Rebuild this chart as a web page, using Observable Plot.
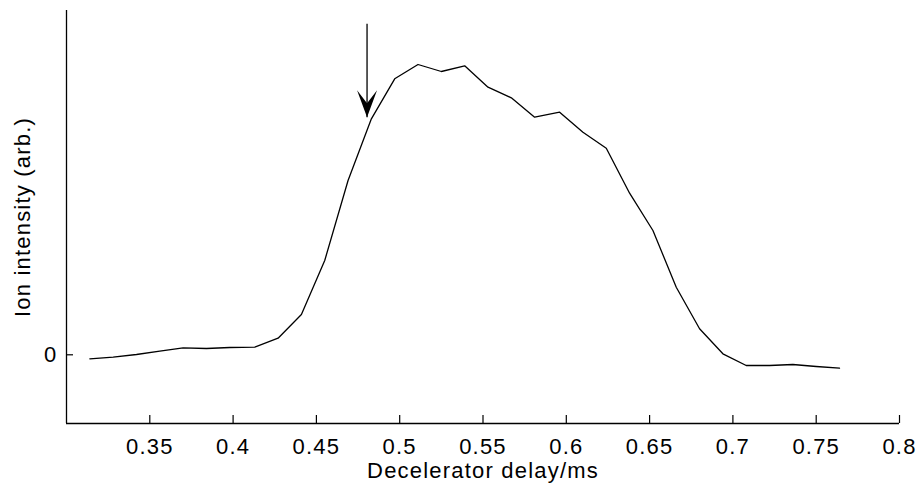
<!DOCTYPE html>
<html>
<head>
<meta charset="utf-8">
<script src="https://cdn.jsdelivr.net/npm/d3@7"></script>
<script src="https://cdn.jsdelivr.net/npm/@observablehq/plot@0.6"></script>
<style>
  html, body { margin: 0; padding: 0; background: #fff; }
  #chart svg { display: block; }
  #chart svg text { font-family: 'Liberation Sans', Arial, Helvetica, sans-serif; font-size: 22px; letter-spacing: 1.2px; fill: black; }
</style>
</head>
<body>
<div id="chart"></div>
<script>
// Decelerator delay (ms)
const delay = [0.314, 0.328, 0.342, 0.356, 0.370, 0.384, 0.398, 0.413, 0.427, 0.441,
  0.455, 0.469, 0.483, 0.497, 0.511, 0.525, 0.539, 0.553, 0.567, 0.581,
  0.596, 0.610, 0.624, 0.638, 0.652, 0.666, 0.680, 0.694, 0.708, 0.722,
  0.736, 0.750, 0.764];
// Ion intensity (arb.)
const intensity = [-0.04, -0.024, 0.003, 0.036, 0.07, 0.063, 0.073, 0.076, 0.166, 0.403,
  0.943, 1.743, 2.36, 2.76, 2.903, 2.833, 2.89, 2.676, 2.57, 2.376,
  2.426, 2.226, 2.066, 1.616, 1.243, 0.676, 0.26, 0.01, -0.107, -0.107,
  -0.097, -0.117, -0.134];
const xTicks = [0.35, 0.4, 0.45, 0.5, 0.55, 0.6, 0.65, 0.7, 0.75, 0.8];
const yTicks = [0];
const xDomain = [0.3, 0.8];
const yDomain = [-0.687, 3.443];
const xLabel = "Decelerator delay/ms";
const yLabel = "Ion intensity (arb.)";
// arrow marking the chosen delay
const arrowX = [0.4804];
const arrowTop = [3.31];
const arrowTip = [2.376];

const data = delay.map((d, i) => ({delay: d, intensity: intensity[i]}));
const arrow = arrowX.map((x, i) => ({x, y1: arrowTop[i], y2: arrowTip[i]}));

const arrowHead = {
  draw(context) {
    context.moveTo(0, 0);
    context.lineTo(-10, -27);
    context.lineTo(0, -14);
    context.lineTo(10, -27);
    context.closePath();
  }
};

const chart = Plot.plot({
  width: 916,
  height: 487,
  marginLeft: 66,
  marginRight: 17,
  marginTop: 10,
  marginBottom: 64,
  style: {background: "white", color: "black"},
  x: {domain: xDomain},
  y: {domain: yDomain},
  marks: [
    Plot.axisX({ticks: xTicks, tickSize: 0, tickPadding: 15, tickFormat: d => String(d), label: null}),
    Plot.axisY({ticks: yTicks, tickSize: 0, tickPadding: 9, tickFormat: d => String(d), label: null}),
    Plot.text([xLabel], {text: d => d, frameAnchor: "bottom", dy: 47.5, lineAnchor: "middle", textAnchor: "middle"}),
    Plot.text([yLabel], {text: d => d, frameAnchor: "left", dx: -44, rotate: -90, lineAnchor: "middle", textAnchor: "middle"}),
    Plot.ruleX(xTicks, {x: d => d, insetTop: 405, stroke: "black", strokeWidth: 1.2}),
    Plot.ruleY(yTicks, {y: d => d, insetRight: 826, stroke: "black", strokeWidth: 1.2}),
    Plot.ruleX([xDomain[0]], {stroke: "black", strokeWidth: 1.3}),
    Plot.ruleY([yDomain[0]], {stroke: "black", strokeWidth: 1.3}),
    Plot.line(data, {x: "delay", y: "intensity", stroke: "black", strokeWidth: 1.3}),
    Plot.link(arrow, {x1: "x", x2: "x", y1: "y1", y2: "y2", stroke: "black", strokeWidth: 1.3}),
    Plot.dot(arrow, {x: "x", y: "y2", symbol: arrowHead, fill: "black", stroke: "none", r: 5})
  ]
});
document.getElementById("chart").appendChild(chart);
</script>
</body>
</html>
